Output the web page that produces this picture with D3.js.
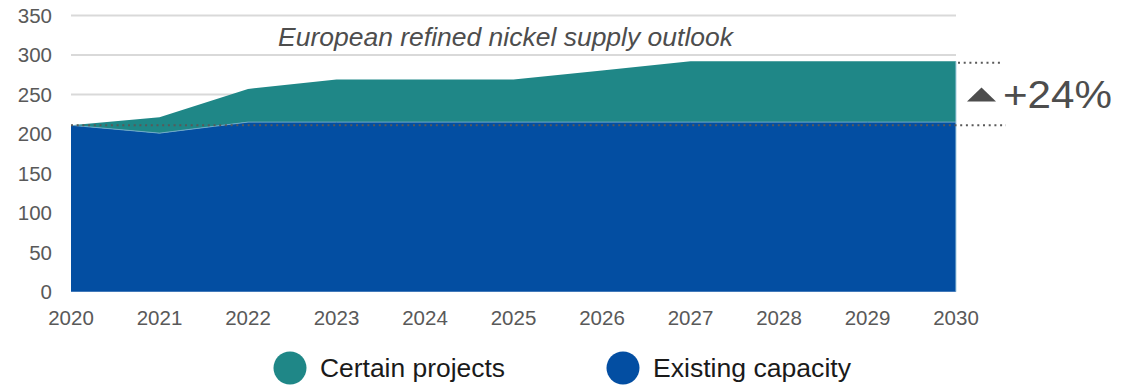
<!DOCTYPE html>
<html><head><meta charset="utf-8">
<script src="https://cdn.jsdelivr.net/npm/d3@7"></script>
<style>body{margin:0;background:#fff;}svg{display:block;font-family:"Liberation Sans",Arial,sans-serif;}</style>
</head><body>
<svg id="c" width="1142" height="385"></svg>
<script>
const years = [2020,2021,2022,2023,2024,2025,2026,2027,2028,2029,2030];
const existingCapacity = [211,201,215,215,215,215,215,215,215,215,215];
const certainProjects = [0,20,42,54,54,54,65.5,77,77,77,77];
const yTicks = [0,50,100,150,200,250,300,350];
const seriesNames = ["Certain projects","Existing capacity"];
const seriesColors = ["#1f8787","#034ea2"];
const title = "European refined nickel supply outlook";
const annotation = "+24%";

const svg = d3.select("#c");
const x = d3.scaleLinear().domain([2020,2030]).range([71,956]);
const y = d3.scaleLinear().domain([0,350]).range([291.7,15.6]);

// gridlines
svg.append("g").selectAll("line").data(yTicks.filter(d=>d>0)).join("line")
  .attr("x1",71).attr("x2",956).attr("y1",d=>y(d)).attr("y2",d=>y(d))
  .attr("stroke","#d9d9d9").attr("stroke-width",2);

const data = years.map((yr,i)=>({yr, ex:existingCapacity[i], tot:existingCapacity[i]+certainProjects[i]}));

svg.append("path").datum(data)
  .attr("d", d3.area().x(d=>x(d.yr)).y0(y(0)).y1(d=>y(d.ex)))
  .attr("fill",seriesColors[1]);
svg.append("path").datum(data)
  .attr("d", d3.area().x(d=>x(d.yr)).y0(d=>y(d.ex)).y1(d=>y(d.tot)))
  .attr("fill",seriesColors[0]);
svg.append("path").datum(data)
  .attr("d", d3.line().x(d=>x(d.yr)).y(d=>y(d.ex)))
  .attr("fill","none").attr("stroke","#6fa9c9").attr("stroke-width",1);
svg.append("line").attr("x1",x(2030)).attr("x2",x(2030)).attr("y1",y(data[10].tot)).attr("y2",y(0))
  .attr("stroke","#a8cde0").attr("stroke-width",1);

// dotted lines
const base = existingCapacity[0];
const top2030 = existingCapacity[10]+certainProjects[10];
svg.append("line").attr("x1",x(2020)).attr("x2",1006).attr("y1",y(base)).attr("y2",y(base))
  .attr("stroke","#595959").attr("stroke-width",2).attr("stroke-dasharray","2,3.7");
svg.append("line").attr("x1",958).attr("x2",1001).attr("y1",y(top2030)+1.3).attr("y2",y(top2030)+1.3)
  .attr("stroke","#595959").attr("stroke-width",2).attr("stroke-dasharray","2,3.7");

// y axis labels
svg.append("g").selectAll("text").data(yTicks).join("text")
  .attr("x",52).attr("y",d=>y(d)+7.3).attr("text-anchor","end")
  .attr("font-size",20.5).attr("fill","#595959").text(d=>d);
// x axis labels
svg.append("g").selectAll("text").data(years).join("text")
  .attr("x",d=>x(d)).attr("y",324.5).attr("text-anchor","middle")
  .attr("font-size",20.5).attr("fill","#595959").text(d=>d);

// title
svg.append("text").attr("x",278).attr("y",45.5)
  .attr("font-size",26).attr("font-style","italic").attr("fill","#4d4d4d")
  .attr("textLength",455).attr("lengthAdjust","spacingAndGlyphs").text(title);

// annotation
svg.append("path").attr("d","M967,101.5 L981.5,87.5 L996,101.5 Z").attr("fill","#4d4d4d");
svg.append("text").attr("x",1003).attr("y",108).attr("font-size",39).attr("fill","#4d4d4d")
  .attr("textLength",109).attr("lengthAdjust","spacingAndGlyphs").text(annotation);

// legend
const lg = svg.append("g");
const lx = [290,623];
const lw = [185,198];
lg.selectAll("ellipse").data(seriesNames).join("ellipse")
  .attr("cx",(d,i)=>lx[i]).attr("cy",368).attr("rx",16.5).attr("ry",16.5).attr("fill",(d,i)=>seriesColors[i]);
lg.selectAll("text").data(seriesNames).join("text")
  .attr("x",(d,i)=>lx[i]+30).attr("y",377).attr("font-size",25).attr("fill","#1a1a1a")
  .attr("textLength",(d,i)=>lw[i]).attr("lengthAdjust","spacingAndGlyphs").text(d=>d);
</script>
</body></html>
